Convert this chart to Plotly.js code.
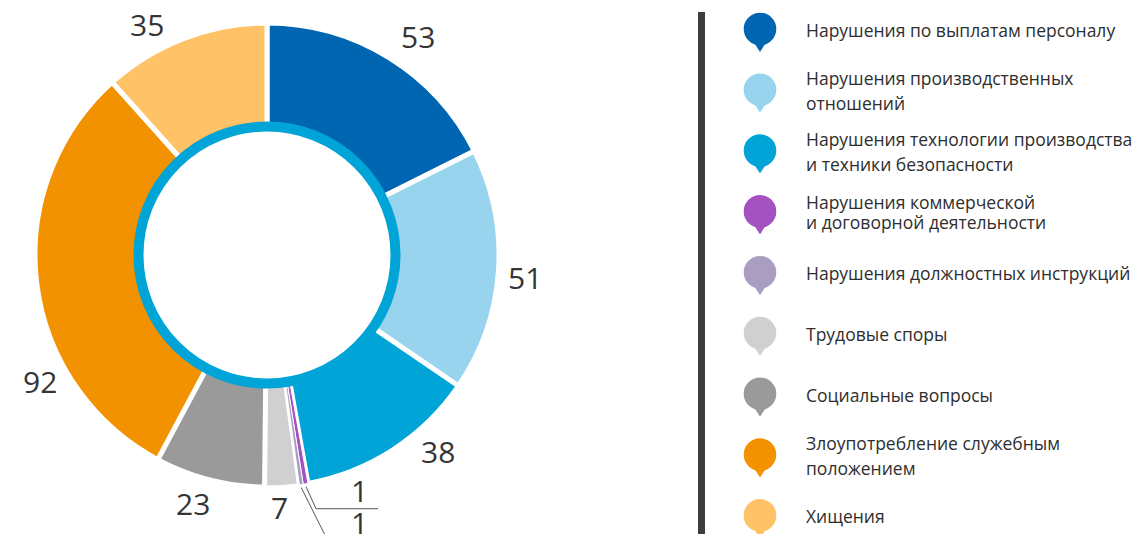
<!DOCTYPE html>
<html>
<head>
<meta charset="utf-8">
<script src="https://cdn.plot.ly/plotly-3.0.1.min.js"></script>
<style>
  html, body { margin: 0; padding: 0; background: #ffffff; }
  #chart { width: 1137px; height: 534px; }
</style>
</head>
<body>
<div id="chart"></div>
<script>
// ---- data ----
const categories = [
  "Нарушения по выплатам персоналу",
  "Нарушения производственных отношений",
  "Нарушения технологии производства и техники безопасности",
  "Нарушения коммерческой и договорной деятельности",
  "Нарушения должностных инструкций",
  "Трудовые споры",
  "Социальные вопросы",
  "Злоупотребление служебным положением",
  "Хищения"
];
const values = [53, 51, 38, 1, 1, 7, 23, 92, 35];
const legendLines = [
  ["Нарушения по выплатам персоналу"],
  ["Нарушения производственных", "отношений"],
  ["Нарушения технологии производства", "и техники безопасности"],
  ["Нарушения коммерческой", "и договорной деятельности"],
  ["Нарушения должностных инструкций"],
  ["Трудовые споры"],
  ["Социальные вопросы"],
  ["Злоупотребление служебным", "положением"],
  ["Хищения"]
];

// ---- style ----
const colors = ["#0066b1", "#98d4ee", "#00a4d7", "#a452c0", "#a99dc1",
                "#d0d0d0", "#9a9a9a", "#f39200", "#ffc266"];
const sepWidths = [5, 5, 5, 1, 1, 3, 5, 5, 5];
// label placement relative to slice mid-angle: [angle shift (deg), radius (px)]
// null = small slice labelled with a leader line
const labelPlace = [[3.1, 264], [1.6, 259], [-7.9, 262], null, null,
                    [0.7, 255], [2.2, 261], [-22.5, 261], [-6.8, 258]];

// ---- geometry (pixels) ----
const W = 1137, H = 534;
const cx = 267, cy = 255, R = 232;
const px = x => x / W;
const py = y => 1 - y / H;
const polar = (deg, r) => {
  const t = deg * Math.PI / 180;
  return [cx + r * Math.sin(t), cy - r * Math.cos(t)];
};

const FONT = "Open Sans, Noto Sans, sans-serif";
const NUMFONT = { family: FONT, size: 30, color: "#353535" };

const trace = {
  type: "pie",
  labels: categories,
  values: values,
  sort: false,
  direction: "clockwise",
  rotation: 0,
  hole: 0.55,
  marker: { colors: colors, line: { color: "#ffffff", width: sepWidths } },
  textinfo: "none",
  domain: { x: [px(cx - R), px(cx + R)], y: [py(cy + R), py(cy - R)] },
  showlegend: false,
  hoverinfo: "label+value"
};

const shapes = [];
const annotations = [];

// inner blue ring
const ringR = 128.5;
shapes.push({
  type: "circle", xref: "paper", yref: "paper",
  x0: px(cx - ringR), x1: px(cx + ringR),
  y0: py(cy + ringR), y1: py(cy - ringR),
  line: { color: "#00a4d7", width: 10 },
  fillcolor: "rgba(0,0,0,0)", layer: "above"
});

// value labels, placed from each slice's mid-angle
const total = values.reduce((a, b) => a + b, 0);
let cum = 0;
const mids = values.map(v => { const m = (cum + v / 2) / total * 360; cum += v; return m; });

let leaderIdx = 0;
let firstLabel = null;
values.forEach((v, i) => {
  const lp = labelPlace[i];
  if (lp) {
    const [x, y] = polar(mids[i] + lp[0], lp[1]);
    annotations.push({
      xref: "paper", yref: "paper", x: px(x), y: py(y - 2),
      xanchor: "center", yanchor: "middle", showarrow: false,
      text: String(v), font: NUMFONT
    });
  } else {
    const [sx, sy] = polar(mids[i], R + 3);
    let lx, ly, path;
    if (leaderIdx === 0) {
      const ex = sx + 10, ey = sy + 22;
      path = `M ${px(sx)} ${py(sy)} L ${px(ex)} ${py(ey)} L ${px(ex + 62)} ${py(ey)}`;
      lx = ex + 43; ly = ey - 17;
      firstLabel = [lx, ly];
    } else {
      path = `M ${px(sx)} ${py(sy)} L ${px(sx + 25)} ${py(sy + 50)}`;
      lx = firstLabel[0]; ly = firstLabel[1] + 32;
    }
    shapes.push({
      type: "path", xref: "paper", yref: "paper", path: path,
      line: { color: "#555555", width: 1 }, layer: "above"
    });
    annotations.push({
      xref: "paper", yref: "paper", x: px(lx), y: py(ly - 1),
      xanchor: "center", yanchor: "middle", showarrow: false,
      text: String(v), font: NUMFONT
    });
    leaderIdx++;
  }
});

// legend bar
shapes.push({
  type: "rect", xref: "paper", yref: "paper",
  x0: px(698), x1: px(705), y0: py(534), y1: py(12),
  fillcolor: "#3d3d3d", line: { width: 0 }, layer: "above"
});

// custom legend with pin markers
const mx = 760, mr = 16.3;
categories.forEach((c, i) => {
  const my = 29 + 60.8 * i;
  shapes.push({
    type: "circle", xref: "paper", yref: "paper",
    x0: px(mx - mr), x1: px(mx + mr), y0: py(my + mr), y1: py(my - mr),
    fillcolor: colors[i], line: { width: 0 }, layer: "above"
  });
  const tri = `M ${px(mx - 7)} ${py(my + 12)} L ${px(mx + 7)} ${py(my + 12)} L ${px(mx)} ${py(my + 23)} Z`;
  shapes.push({
    type: "path", xref: "paper", yref: "paper", path: tri,
    fillcolor: colors[i], line: { width: 0 }, layer: "above"
  });
  const lines = legendLines[i];
  const gap = (i === 3) ? 20 : 25;
  const y0 = my + 1 - gap * (lines.length - 1) / 2;
  lines.forEach((t, k) => {
    annotations.push({
      xref: "paper", yref: "paper",
      x: px(804), y: py(y0 + gap * k),
      xanchor: "left", yanchor: "middle",
      text: t, showarrow: false, align: "left",
      font: { family: FONT, size: 17.5, color: "#2e2e2e" }
    });
  });
});

const layout = {
  width: W, height: H,
  margin: { l: 0, r: 0, t: 0, b: 0 },
  paper_bgcolor: "#ffffff",
  plot_bgcolor: "#ffffff",
  showlegend: false,
  shapes: shapes,
  annotations: annotations
};

Plotly.newPlot("chart", [trace], layout, { displayModeBar: false, staticPlot: true });
</script>
</body>
</html>
